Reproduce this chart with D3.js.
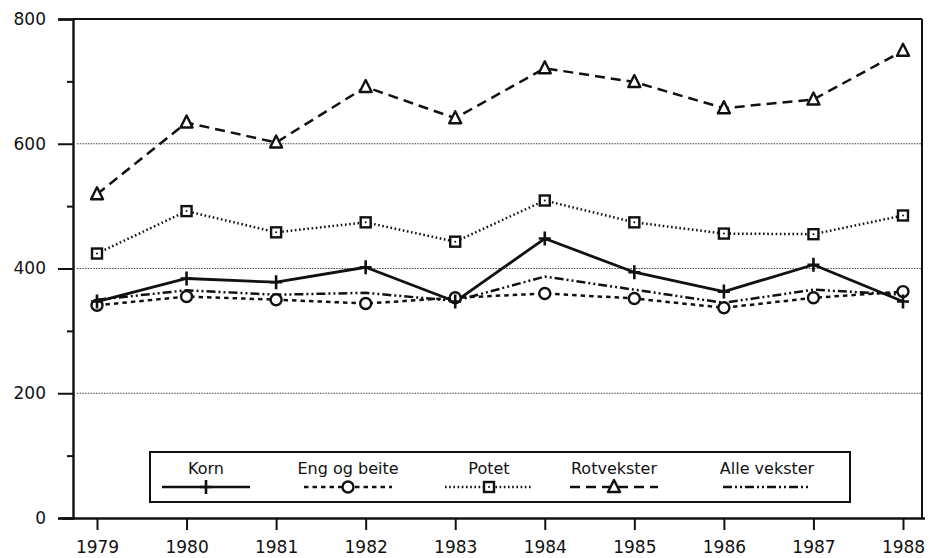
<!DOCTYPE html>
<html>
<head>
<meta charset="utf-8">
<script src="https://cdn.jsdelivr.net/npm/d3@7"></script>
<style>
  html, body { margin: 0; padding: 0; background: #fff; }
  svg text { font-family: "DejaVu Sans", sans-serif; fill: #111; }
</style>
</head>
<body>
<svg id="chart" width="931" height="558"></svg>
<script>
// ---- data ----
const years = [1979, 1980, 1981, 1982, 1983, 1984, 1985, 1986, 1987, 1988];
const korn = [347, 384, 378, 402, 347, 448, 394, 363, 406, 347];
const engOgBeite = [341, 355, 350, 344, 353, 360, 352, 337, 353, 363];
const potet = [424, 492, 458, 474, 443, 509, 474, 456, 455, 485];
const rotvekster = [519, 634, 602, 691, 641, 721, 699, 657, 671, 749];
const alleVekster = [350, 365, 358, 361, 348, 387, 366, 345, 366, 358];
const seriesNames = ["Korn", "Eng og beite", "Potet", "Rotvekster", "Alle vekster"];
const yMajorTicks = [0, 200, 400, 600, 800];
const yMinorTicks = [100, 300, 500, 700];
const gridValues = [200, 400, 600];

// ---- layout / style ----
const x0 = 73, xRight = 922, yTop = 19, yBottom = 518;
const x = d3.scaleLinear().domain([1979, 1988]).range([97, 903]);
const y = d3.scaleLinear().domain([0, 800]).range([yBottom, yTop]);

const styles = [
  { dash: null, marker: "plus" },
  { dash: "4.5,4", marker: "circle" },
  { dash: "1.6,2.6", marker: "square" },
  { dash: "10,6", marker: "triangle" },
  { dash: "9,3,2,3,2,3", marker: null }
];
const seriesData = [korn, engOgBeite, potet, rotvekster, alleVekster];
const legendCenters = [206, 348, 489, 614, 767];

const svg = d3.select("#chart");

// grid lines
svg.append("g").selectAll("line").data(gridValues).join("line")
  .attr("x1", x0 + 4).attr("x2", xRight)
  .attr("y1", d => y(d)).attr("y2", d => y(d))
  .attr("stroke", "#444").attr("stroke-width", 1)
  .attr("stroke-dasharray", "1.5,1.2");

// frame: top and right
svg.append("line").attr("x1", x0).attr("x2", xRight).attr("y1", yTop).attr("y2", yTop)
  .attr("stroke", "#111").attr("stroke-width", 2);
svg.append("line").attr("x1", xRight).attr("x2", xRight).attr("y1", yTop).attr("y2", yBottom)
  .attr("stroke", "#111").attr("stroke-width", 2);

// y axis
const yAxis = d3.axisLeft(y).tickValues(yMajorTicks).tickSize(15).tickPadding(12)
  .tickFormat(d3.format("d"));
const gy = svg.append("g").attr("transform", `translate(${x0},0)`).call(yAxis);
gy.select(".domain").attr("stroke", "#111").attr("stroke-width", 2.4);
gy.selectAll(".tick line").attr("stroke", "#111").attr("stroke-width", 2);
gy.selectAll(".tick text").attr("font-size", 17).attr("font-family", null);

const gyMinor = svg.append("g").attr("transform", `translate(${x0},0)`)
  .call(d3.axisLeft(y).tickValues(yMinorTicks).tickSize(6).tickFormat(""));
gyMinor.select(".domain").remove();
gyMinor.selectAll(".tick line").attr("stroke", "#111").attr("stroke-width", 2);

// x axis
const xAxis = d3.axisBottom(x).tickValues(years).tickSize(12).tickPadding(11)
  .tickFormat(d3.format("d"));
const gx = svg.append("g").attr("transform", `translate(0,${yBottom})`).call(xAxis);
gx.select(".domain").attr("d", `M${x0 - 10},0.5H${xRight + 3}`).attr("stroke", "#111").attr("stroke-width", 2.4);
gx.selectAll(".tick line").attr("stroke", "#111").attr("stroke-width", 2);
gx.selectAll(".tick text").attr("font-size", 17).attr("font-family", null);

// markers
function drawMarker(g, type, cx, cy) {
  if (type === "plus") {
    g.append("path").attr("d", `M${cx - 6},${cy}H${cx + 6}M${cx},${cy - 7}V${cy + 7}`)
      .attr("stroke", "#111").attr("stroke-width", 2.6).attr("fill", "none");
  } else if (type === "circle") {
    g.append("circle").attr("cx", cx).attr("cy", cy).attr("r", 5.5)
      .attr("fill", "#fff").attr("stroke", "#111").attr("stroke-width", 2.4);
  } else if (type === "square") {
    g.append("rect").attr("x", cx - 5).attr("y", cy - 5).attr("width", 10).attr("height", 10)
      .attr("fill", "#fff").attr("stroke", "#111").attr("stroke-width", 2.4);
    g.append("circle").attr("cx", cx).attr("cy", cy).attr("r", 1).attr("fill", "#111");
  } else if (type === "triangle") {
    g.append("path").attr("d", `M${cx},${cy - 7}L${cx + 6},${cy + 5}L${cx - 6},${cy + 5}Z`)
      .attr("fill", "#fff").attr("stroke", "#111").attr("stroke-width", 2.4)
      .attr("stroke-linejoin", "round");
  }
}

const line = d3.line().x((d, i) => x(years[i])).y(d => y(d));

// draw series (alle vekster first so markers sit on top)
const order = [4, 1, 0, 2, 3];
order.forEach(si => {
  svg.append("path").datum(seriesData[si])
    .attr("d", line)
    .attr("fill", "none").attr("stroke", "#111")
    .attr("stroke-width", si === 0 ? 2.8 : 2.5)
    .attr("stroke-dasharray", styles[si].dash)
    .attr("stroke-linejoin", "round");
});
order.forEach(si => {
  if (!styles[si].marker) return;
  const g = svg.append("g");
  seriesData[si].forEach((v, i) => drawMarker(g, styles[si].marker, x(years[i]), y(v)));
});

// legend
const lg = svg.append("g");
lg.append("rect").attr("x", 150).attr("y", 452).attr("width", 700).attr("height", 50)
  .attr("fill", "#fff").attr("stroke", "#111").attr("stroke-width", 2);
seriesNames.forEach((name, i) => {
  const cx = legendCenters[i];
  lg.append("text").attr("x", cx).attr("y", 474).attr("text-anchor", "middle")
    .attr("font-size", 16).text(name);
  lg.append("line").attr("x1", cx - 44).attr("x2", cx + 44).attr("y1", 487).attr("y2", 487)
    .attr("stroke", "#111").attr("stroke-width", 2.4)
    .attr("stroke-dasharray", styles[i].dash);
  if (styles[i].marker) drawMarker(lg, styles[i].marker, cx, 487);
});
</script>
</body>
</html>
